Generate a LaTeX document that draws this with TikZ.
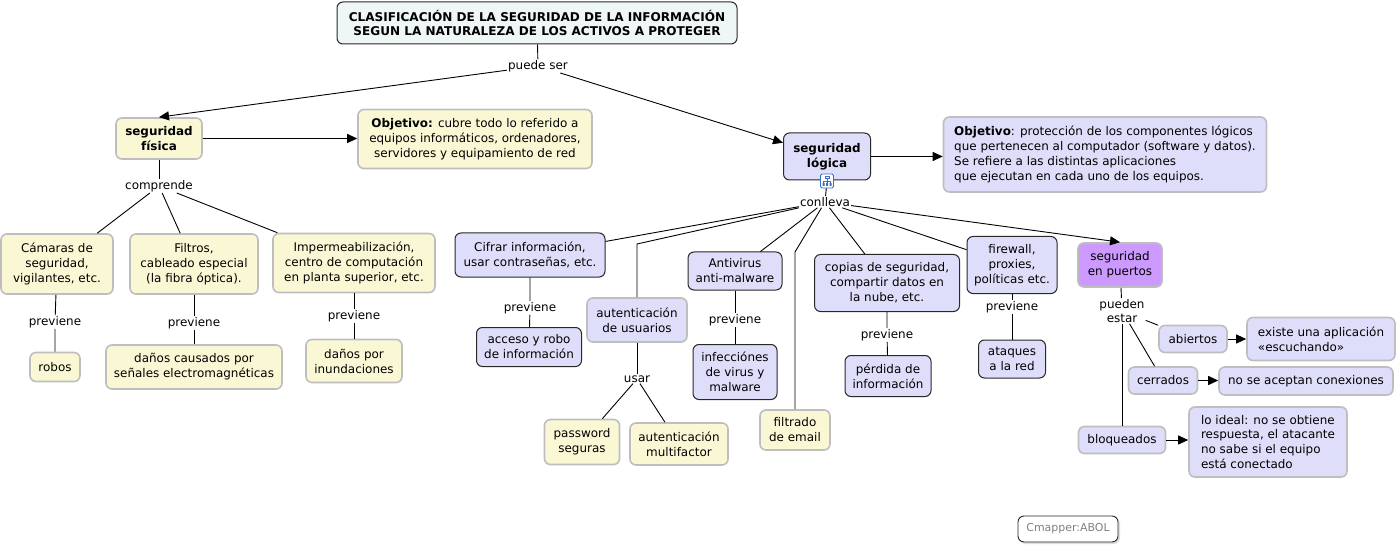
\documentclass[tikz,border=0pt]{standalone}
\usepackage{fontspec}
\setmainfont{DejaVu Sans}
\usetikzlibrary{arrows.meta,shadows}
\definecolor{yel}{RGB}{250,248,212}
\definecolor{blu}{RGB}{222,222,250}
\definecolor{pur}{RGB}{204,153,255}
\definecolor{tit}{RGB}{238,246,246}
\definecolor{gbord}{RGB}{190,190,190}
\definecolor{dbord}{RGB}{40,40,40}
\definecolor{icb}{RGB}{60,110,200}
\begin{document}
\begin{tikzpicture}[x=1bp,y=-1bp,
  every node/.style={font=\fontsize{12}{15}\selectfont, align=center},
  cbox/.style={rounded corners=6bp, inner sep=0pt},
  yb/.style={cbox, fill=yel, draw=gbord, line width=1.6bp},
  bbd/.style={cbox, fill=blu, draw=dbord, line width=1bp},
  bbg/.style={cbox, fill=blu, draw=gbord, line width=1.6bp},
  pb/.style={cbox, fill=pur, draw=gbord, line width=1.6bp},
  lbl/.style={inner sep=1bp},
  conn/.style={line width=0.9bp, draw=black},
  arr/.style={conn, -{Triangle[length=10bp,width=9bp]}},
  sz/.style 2 args={minimum width=#1bp, minimum height=#2bp}
]
\fill[white] (0,0) rectangle (1397,549);
\useasboundingbox (0,0) rectangle (1397,549);

% ---------- nodes ----------
\node[cbox, fill=tit, draw=dbord, line width=1bp, sz={400}{42},
      font=\fontsize{12.1}{14.5}\selectfont\bfseries] (title) at (537,23)
  {CLASIFICACIÓN DE LA SEGURIDAD DE LA INFORMACIÓN\\SEGUN LA NATURALEZA DE LOS ACTIVOS A PROTEGER};
\node[lbl] (puedeser) at (538,66) {puede ser};

\node[yb, sz={86}{41}, font=\fontsize{12}{15}\selectfont\bfseries] (fisica) at (159,138.5) {seguridad\\física};
\node[yb, sz={234}{59}] (objfis) at (475,139)
  {\textbf{Objetivo:} cubre todo lo referido a\\equipos informáticos, ordenadores,\\servidores y equipamiento de red};
\node[lbl] (comprende) at (159,186) {comprende};
\node[yb, sz={112}{60}] (camaras) at (57,264) {Cámaras de\\seguridad,\\vigilantes, etc.};
\node[yb, sz={128}{60}] (filtros) at (194,264) {Filtros,\\cableado especial\\(la fibra óptica).};
\node[yb, sz={162}{59}] (imper) at (354,263) {Impermeabilización,\\centro de computación\\en planta superior, etc.};
\node[lbl] (prev1) at (55,322) {previene};
\node[yb, sz={50}{29}] (robos) at (55,367) {robos};
\node[lbl] (prev2) at (194,323) {previene};
\node[yb, sz={176}{44}] (danos1) at (194,367) {daños causados por\\señales electromagnéticas};
\node[lbl] (prev3) at (354,316) {previene};
\node[yb, sz={96}{43}] (danos2) at (354,361) {daños por\\inundaciones};

\node[bbd, sz={87}{47}, font=\fontsize{12}{15}\selectfont\bfseries] (logica) at (827,156.5) {seguridad\\lógica};
\node[bbg, sz={323}{75}, align=left] (objlog) at (1105,154.5)
  {\textbf{Objetivo}: protección de los componentes lógicos\\que pertenecen al computador (software y datos).\\Se refiere a las distintas aplicaciones\\que ejecutan en cada uno de los equipos.};
\node[lbl] (conlleva) at (825,202) {conlleva};
\coordinate (bend1) at (637,244);
\coordinate (bend2) at (795,252);

\node[bbd, sz={150}{44}] (cifrar) at (530,255) {Cifrar información,\\usar contraseñas, etc.};
\node[lbl] (prev4) at (530,308) {previene};
\node[bbd, sz={105}{39}] (acceso) at (529,347) {acceso y robo\\de información};
\node[bbg, sz={100}{44}] (autusu) at (637,320) {autenticación\\de usuarios};
\node[lbl] (usar) at (637,379) {usar};
\node[yb, sz={75}{45}] (password) at (582,442) {password\\seguras};
\node[yb, sz={98}{42}] (multif) at (679,444) {autenticación\\multifactor};
\node[bbd, sz={94}{38}] (antivirus) at (735,271) {Antivirus\\anti-malware};
\node[lbl] (prev5) at (735,320) {previene};
\node[bbd, sz={84}{55}] (infec) at (735,372) {infecciónes\\de virus y\\malware};
\node[yb, sz={70}{40}] (filtrado) at (795,430) {filtrado\\de email};
\node[bbd, sz={145}{57}] (copias) at (887,283) {copias de seguridad,\\compartir datos en\\la nube, etc.};
\node[lbl] (prev6) at (887,335) {previene};
\node[bbd, sz={86}{41}] (perdida) at (888,376) {pérdida de\\información};
\node[bbd, sz={90}{57}] (firewall) at (1012,265) {firewall,\\proxies,\\políticas etc.};
\node[lbl] (prev7) at (1012,307) {previene};
\node[bbd, sz={67}{38}] (ataques) at (1012,359) {ataques\\a la red};
\node[pb, sz={84}{44}] (puertos) at (1120,265) {seguridad\\en puertos};
\node[lbl, font=\fontsize{12}{14}\selectfont] (pueden) at (1122,311) {pueden\\estar};
\node[bbg, sz={68}{27}] (abiertos) at (1193,339) {abiertos};
\node[bbg, sz={148}{43}, align=left] (existe) at (1321,339) {existe una aplicación\\«escuchando»};
\node[bbg, sz={69}{27}] (cerrados) at (1163,380.5) {cerrados};
\node[bbg, sz={174}{28}] (noacept) at (1306,381) {no se aceptan conexiones};
\node[bbg, sz={87}{27}] (bloq) at (1122,440) {bloqueados};
\node[bbg, sz={158}{70}, align=left] (ideal) at (1268,442)
  {lo ideal: no se obtiene\\respuesta, el atacante\\no sabe si el equipo\\está conectado};

\node[cbox, fill=white, draw=dbord, line width=0.9bp, sz={100}{26}, text=gray,
      font=\fontsize{11}{13}\selectfont,
      drop shadow={shadow xshift=2bp, shadow yshift=-2bp, fill=gray!50}] (cmapper) at (1068,529) {Cmapper:ABOL};

% ---------- connectors ----------
\draw[conn] (title) -- (puedeser);
\draw[arr] (puedeser) -- (fisica.north);
\draw[arr] (puedeser) -- (logica);
\draw[arr] (fisica.east) -- (fisica.east -| objfis.west);
\draw[conn] (fisica) -- (comprende);
\draw[conn] (comprende) -- (camaras);
\draw[conn] (comprende) -- (filtros);
\draw[conn] (comprende) -- (imper);
\draw[conn] (camaras) -- (prev1) -- (robos);
\draw[conn] (filtros) -- (prev2) -- (danos1);
\draw[conn] (imper) -- (prev3) -- (danos2);

\draw[arr] (logica.east) -- (logica.east -| objlog.west);
\draw[conn] (logica.south) -- (conlleva);
\draw[conn] (conlleva) -- (cifrar);
\draw[conn] (conlleva) -- (bend1) -- (autusu);
\draw[conn] (conlleva) -- (antivirus);
\draw[conn] (conlleva) -- (bend2) -- (filtrado);
\draw[conn] (conlleva) -- (copias);
\draw[conn] (conlleva) -- (firewall);
\draw[arr] (conlleva) -- (puertos.north);
\draw[conn] (cifrar) -- (prev4) -- (acceso);
\draw[conn] (autusu) -- (usar);
\draw[conn] (usar) -- (password);
\draw[conn] (usar) -- (multif);
\draw[conn] (antivirus) -- (prev5) -- (infec);
\draw[conn] (copias) -- (prev6) -- (perdida);
\draw[conn] (firewall) -- (prev7) -- (ataques);
\draw[conn] (puertos) -- (pueden);
\draw[conn] (pueden) -- (abiertos);
\draw[conn] (pueden) -- (cerrados);
\draw[conn] (pueden) -- (bloq);
\draw[arr] (abiertos.east) -- (abiertos.east -| existe.west);
\draw[arr] (cerrados.east) -- (cerrados.east -| noacept.west);
\draw[arr] (bloq.east) -- (bloq.east -| ideal.west);

% ---------- little icon under seguridad logica ----------
\node[draw=icb, fill=white, rounded corners=1.5bp, line width=0.8bp,
      minimum width=13bp, minimum height=14bp, inner sep=0pt] (icon) at (827,181) {};
\draw[icb, line width=0.7bp] (825,176) rectangle (829,178);
\draw[icb, line width=0.6bp] (827,178) -- (827,181) (823.5,181) -- (830.5,181)
      (823.5,181) -- (823.5,183) (830.5,181) -- (830.5,183) (827,181) -- (827,183);
\fill[icb] (822.5,183) rectangle (824.5,186) (826,183) rectangle (828,186) (829.5,183) rectangle (831.5,186);
\end{tikzpicture}
\end{document}
